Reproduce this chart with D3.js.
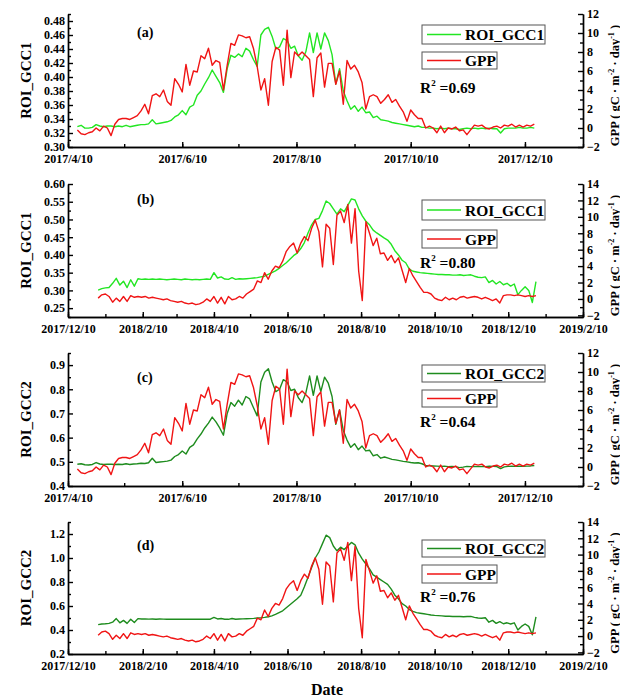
<!DOCTYPE html>
<html>
<head>
<meta charset="utf-8">
<script src="https://cdnjs.cloudflare.com/ajax/libs/d3/7.8.5/d3.min.js"></script>
<style>
body { margin: 0; background: #fff; }
svg text { font-family: "Liberation Serif", "Times New Roman", serif; font-weight: bold; fill: #000; }
</style>
</head>
<body>
<div id="chart"></div>
<script>
// ---- data ----
// 2017 site: one value every 2 days from 2017/4/15
var start2017 = '2017/4/15', step2017 = 2;
var gcc1_2017 = [
  0.329, 0.331, 0.327, 0.327, 0.328, 0.332, 0.330, 0.329, 0.330, 0.330,
  0.329, 0.330, 0.329, 0.331, 0.329, 0.330, 0.331, 0.332, 0.332, 0.333,
  0.339, 0.333, 0.334, 0.335, 0.336, 0.338, 0.343, 0.346, 0.352, 0.346,
  0.357, 0.360, 0.374, 0.380, 0.390, 0.399, 0.410, 0.401, 0.392, 0.378,
  0.412, 0.431, 0.428, 0.433, 0.429, 0.441, 0.437, 0.425, 0.415, 0.460,
  0.468, 0.471, 0.458, 0.440, 0.443, 0.455, 0.452, 0.441, 0.444, 0.430,
  0.424, 0.436, 0.463, 0.435, 0.463, 0.440, 0.463, 0.452, 0.432, 0.390,
  0.412, 0.380, 0.366, 0.354, 0.359, 0.351, 0.357, 0.349, 0.350, 0.342,
  0.344, 0.339, 0.338, 0.337, 0.335, 0.334, 0.333, 0.332, 0.331, 0.330,
  0.329, 0.330, 0.328, 0.328, 0.327, 0.327, 0.326, 0.327, 0.326, 0.327,
  0.326, 0.326, 0.325, 0.326, 0.327, 0.326, 0.327, 0.326, 0.327, 0.326,
  0.327, 0.326, 0.326, 0.320, 0.326, 0.327, 0.327, 0.327, 0.328, 0.327,
  0.327, 0.328, 0.327
];
var gcc2_2017 = [
  0.490, 0.492, 0.488, 0.487, 0.489, 0.497, 0.491, 0.489, 0.490, 0.490,
  0.489, 0.490, 0.489, 0.492, 0.489, 0.491, 0.492, 0.494, 0.493, 0.496,
  0.515, 0.497, 0.499, 0.501, 0.503, 0.507, 0.522, 0.530, 0.545, 0.532,
  0.560, 0.570, 0.595, 0.615, 0.640, 0.660, 0.685, 0.665, 0.640, 0.610,
  0.700, 0.745, 0.730, 0.755, 0.735, 0.770, 0.760, 0.725, 0.690, 0.830,
  0.870, 0.885, 0.830, 0.790, 0.800, 0.840, 0.830, 0.795, 0.800, 0.765,
  0.745, 0.785, 0.855, 0.775, 0.855, 0.790, 0.850, 0.825, 0.770, 0.655,
  0.715, 0.630, 0.590, 0.560, 0.575, 0.550, 0.565, 0.545, 0.548, 0.525,
  0.530, 0.515, 0.520, 0.515, 0.510, 0.508, 0.505, 0.502, 0.500, 0.497,
  0.495, 0.496, 0.492, 0.485, 0.484, 0.483, 0.482, 0.481, 0.482, 0.480,
  0.481, 0.480, 0.476, 0.478, 0.481, 0.480, 0.481, 0.480, 0.481, 0.480,
  0.482, 0.481, 0.480, 0.472, 0.479, 0.481, 0.482, 0.481, 0.482, 0.481,
  0.482, 0.483, 0.485
];
var gpp_2017 = [
  -0.2, -0.6, -0.7, -0.5, -0.4, 0.0, -0.3, 0.2, 0.0, -0.8,
  0.4, 0.9, 1.0, 1.0, 0.9, 1.1, 1.3, 1.8, 2.5, 1.5,
  3.4, 3.6, 3.3, 4.0, 2.8, 2.4, 5.2, 4.6, 3.8, 6.7,
  4.5, 6.0, 5.9, 7.6, 7.3, 8.4, 6.6, 7.1, 6.9, 4.0,
  6.6, 8.9, 8.7, 9.8, 9.7, 9.5, 9.6, 8.4, 6.5, 4.0,
  5.2, 2.4, 7.0, 8.5, 8.2, 4.5, 10.3, 5.3, 8.0, 7.6,
  8.0, 7.6, 7.2, 3.3, 7.4, 7.9, 4.3, 6.8, 6.8, 4.6,
  6.0, 2.5, 7.1, 6.2, 6.6, 5.9, 4.8, 2.0, 3.3, 3.5,
  3.3, 2.6, 3.0, 3.5, 2.7, 3.0, 2.3, 1.7, 0.7, 1.9,
  1.4, 1.0, 1.0, 0.0, 0.2, 0.0, -0.5, 0.2, -0.5, 0.0,
  -0.1, 0.1, -0.3, -0.2, -0.7, -0.2, 0.3, 0.2, 0.3, 0.0,
  -0.1, 0.1, 0.2, 0.0, 0.3, 0.2, 0.4, 0.1, 0.3, 0.1,
  0.3, 0.2, 0.4
];
// 2018 site: one value every 3 days from 2018/1/4
var start2018 = '2018/1/4', step2018 = 3;
var gcc1_2018 = [
  0.301, 0.305, 0.307, 0.308, 0.320, 0.334, 0.315, 0.326, 0.308, 0.330,
  0.312, 0.333, 0.331, 0.332, 0.331, 0.332, 0.331, 0.332, 0.331, 0.330,
  0.331, 0.332, 0.331, 0.330, 0.332, 0.331, 0.330, 0.331, 0.330, 0.331,
  0.332, 0.331, 0.350, 0.335, 0.338, 0.332, 0.331, 0.336, 0.331, 0.333,
  0.332, 0.333, 0.334, 0.335, 0.336, 0.338, 0.340, 0.345, 0.350, 0.355,
  0.362, 0.370, 0.378, 0.388, 0.398, 0.405, 0.418, 0.435, 0.462, 0.485,
  0.500, 0.503, 0.525, 0.552, 0.545, 0.530, 0.515, 0.530, 0.522, 0.540,
  0.558, 0.555, 0.530, 0.510, 0.495, 0.485, 0.470, 0.462, 0.455, 0.448,
  0.442, 0.430, 0.412, 0.400, 0.385, 0.378, 0.360, 0.354, 0.352, 0.350,
  0.349, 0.348, 0.347, 0.346, 0.345, 0.345, 0.344, 0.344, 0.343, 0.343,
  0.344, 0.342, 0.343, 0.344, 0.340, 0.337, 0.336, 0.338, 0.322, 0.328,
  0.318, 0.325, 0.316, 0.320, 0.312, 0.318, 0.288, 0.300, 0.310, 0.300,
  0.266, 0.325
];
var gcc2_2018 = [
  0.445, 0.450, 0.452, 0.455, 0.465, 0.495, 0.460, 0.480, 0.455, 0.490,
  0.462, 0.495, 0.492, 0.493, 0.491, 0.492, 0.490, 0.492, 0.491, 0.489,
  0.490, 0.491, 0.490, 0.489, 0.491, 0.490, 0.489, 0.490, 0.491, 0.490,
  0.491, 0.490, 0.505, 0.492, 0.496, 0.490, 0.489, 0.496, 0.490, 0.492,
  0.493, 0.494, 0.495, 0.497, 0.500, 0.502, 0.505, 0.510, 0.518, 0.530,
  0.545, 0.560, 0.585, 0.610, 0.635, 0.660, 0.690, 0.760, 0.840, 0.920,
  1.000, 1.050, 1.120, 1.190, 1.170, 1.100, 1.060, 1.090, 1.070, 1.100,
  1.130, 1.110, 1.040, 0.990, 0.950, 0.910, 0.860, 0.840, 0.820, 0.800,
  0.780, 0.740, 0.690, 0.660, 0.620, 0.600, 0.570, 0.555, 0.545, 0.540,
  0.535, 0.530, 0.525, 0.522, 0.520, 0.518, 0.515, 0.515, 0.513, 0.512,
  0.513, 0.510, 0.512, 0.513, 0.505, 0.500, 0.498, 0.502, 0.465, 0.480,
  0.455, 0.470, 0.452, 0.460, 0.450, 0.460, 0.400, 0.430, 0.450, 0.430,
  0.360, 0.510
];
var gpp_2018 = [
  0.1, 0.5, 0.6, 0.3, -0.4, 0.1, -0.3, 0.3, -0.3, 0.4,
  0.2, 0.3, 0.2, 0.3, 0.1, 0.2, 0.1, 0.0, -0.1, 0.0,
  -0.2, -0.3, -0.4, -0.3, -0.5, -0.6, -0.5, -0.7, -0.6, -0.4,
  0.0, -0.3, 0.3, -0.5, 0.2, -0.6, 0.3, -0.1, 0.0, 0.3,
  0.1, 0.6, 0.9, 1.2, 2.2, 2.0, 3.2, 2.4, 3.4, 4.0,
  3.8, 4.6, 5.8, 6.4, 6.8, 5.6, 6.8, 7.6, 7.1, 8.6,
  9.6, 8.2, 3.9, 9.1, 8.6, 4.2, 10.2, 10.7, 9.3, 11.5,
  6.8, 11.0, 3.4, -0.2, 9.4, 8.0, 6.5, 7.4, 5.5, 5.6,
  4.7, 5.3, 4.4, 5.0, 3.5, 2.0, 3.7, 2.8, 2.1, 1.4,
  0.8, 0.8, 0.6, 0.1, -0.1, -0.2, 0.2, -0.1, 0.1, -0.1,
  0.2, 0.3, 0.1, 0.2, 0.3, 0.2, 0.0, 0.2, 0.0, -0.2,
  0.0, -0.5, 0.4, 0.5, 0.5, 0.4, 0.5, 0.4, 0.3, 0.4,
  0.3, 0.4
];

// tick labels
var xTicks2017 = ['2017/4/10', '2017/6/10', '2017/8/10', '2017/10/10', '2017/12/10'];
var xTicks2018 = ['2017/12/10', '2018/2/10', '2018/4/10', '2018/6/10', '2018/8/10', '2018/10/10', '2018/12/10', '2019/2/10'];
var yTicksA = [0.30, 0.32, 0.34, 0.36, 0.38, 0.40, 0.42, 0.44, 0.46, 0.48];
var yTicksB = [0.25, 0.30, 0.35, 0.40, 0.45, 0.50, 0.55, 0.60];
var yTicksC = [0.4, 0.5, 0.6, 0.7, 0.8, 0.9];
var yTicksD = [0.2, 0.4, 0.6, 0.8, 1.0, 1.2];
var gppTicks2017 = [-2, 0, 2, 4, 6, 8, 10, 12];
var gppTicks2018 = [-2, 0, 2, 4, 6, 8, 10, 12, 14];
var panelTags = ['(a)', '(b)', '(c)', '(d)'];
var gccNames = ['ROI_GCC1', 'ROI_GCC1', 'ROI_GCC2', 'ROI_GCC2'];
var r2Values = ['0.69', '0.80', '0.64', '0.76'];

// ---- layout ----
var width = 620, height = 700;
var left = 68, right = 583;
var parse = d3.utcParse('%Y/%m/%d');
var font = '"Liberation Serif", "Times New Roman", serif';

var svg = d3.select('#chart').append('svg')
    .attr('width', width)
    .attr('height', height);

function series(start, step, values) {
    var t0 = parse(start);
    return values.map((v, i) => ({ date: d3.utcDay.offset(t0, step * i), v: v }));
}

var panels = [
    { top: 14, bottom: 147, gcc: gcc1_2017, gpp: gpp_2017, start: start2017, step: step2017,
      xDom: ['2017/4/10', '2018/1/10'], xTicks: xTicks2017, yDom: [0.30, 0.49], yTicks: yTicksA, yFmt: '.2f',
      gDom: [-2, 12], gTicks: gppTicks2017, color: '#22e622',
      tagY: 37, box1: [25, 44], box2: [52, 69], r2Y: 93 },
    { top: 184, bottom: 317, gcc: gcc1_2018, gpp: gpp_2018, start: start2018, step: step2018,
      xDom: ['2017/12/10', '2019/2/10'], xTicks: xTicks2018, yDom: [0.225, 0.60], yTicks: yTicksB, yFmt: '.2f',
      gDom: [-2.2, 14], gTicks: gppTicks2018, color: '#22e622',
      tagY: 204, box1: [200, 220], box2: [230, 248], r2Y: 268 },
    { top: 353, bottom: 486, gcc: gcc2_2017, gpp: gpp_2017, start: start2017, step: step2017,
      xDom: ['2017/4/10', '2018/1/10'], xTicks: xTicks2017, yDom: [0.4, 0.95], yTicks: yTicksC, yFmt: '.1f',
      gDom: [-2, 12], gTicks: gppTicks2017, color: '#1e8c1e',
      tagY: 382, box1: [365, 382], box2: [390, 407], r2Y: 427 },
    { top: 522, bottom: 654, gcc: gcc2_2018, gpp: gpp_2018, start: start2018, step: step2018,
      xDom: ['2017/12/10', '2019/2/10'], xTicks: xTicks2018, yDom: [0.2, 1.3], yTicks: yTicksD, yFmt: '.1f',
      gDom: [-2.2, 14], gTicks: gppTicks2018, color: '#1e8c1e',
      tagY: 550, box1: [540, 557], box2: [565, 583], r2Y: 602 }
];

function styleAxis(g) {
    g.selectAll('path, line').attr('stroke', '#000').attr('stroke-width', 1.4);
    g.selectAll('text')
        .attr('font-family', font)
        .attr('font-weight', 'bold')
        .attr('font-size', 12)
        .attr('fill', '#000');
}

panels.forEach((p, k) => {
    var x = d3.scaleUtc().domain(p.xDom.map(parse)).range([left, right]);
    var yL = d3.scaleLinear().domain(p.yDom).range([p.bottom, p.top]);
    var yR = d3.scaleLinear().domain(p.gDom).range([p.bottom, p.top]);

    // minor ticks
    var half = (p.yTicks[1] - p.yTicks[0]) / 2;
    var yMinor = [p.yTicks[0] - half].concat(p.yTicks.map(v => v + half))
        .filter(v => v >= p.yDom[0] - 1e-9 && v <= p.yDom[1] + 1e-9);
    var gMinor = p.gTicks.map(v => v + 1).filter(v => v <= p.gDom[1]);
    var d0 = parse(p.xDom[0]), d1 = parse(p.xDom[1]);
    var xMinor = d3.utcMonth.range(d3.utcMonth.floor(d0), d1)
        .map(m => new Date(Date.UTC(m.getUTCFullYear(), m.getUTCMonth(), 10)))
        .filter(d => d >= d0 && d <= d1);

    var g = svg.append('g');

    // data lines
    var gccData = series(p.start, p.step, p.gcc);
    var gppData = series(p.start, p.step, p.gpp);
    g.append('path')
        .datum(gccData)
        .attr('fill', 'none')
        .attr('stroke', p.color)
        .attr('stroke-width', 1.4)
        .attr('stroke-linejoin', 'round')
        .attr('d', d3.line().x(d => x(d.date)).y(d => yL(d.v)));
    g.append('path')
        .datum(gppData)
        .attr('fill', 'none')
        .attr('stroke', '#f01414')
        .attr('stroke-width', 1.4)
        .attr('stroke-linejoin', 'round')
        .attr('d', d3.line().x(d => x(d.date)).y(d => yR(d.v)));

    // axes
    g.append('g').attr('transform', 'translate(' + left + ',0)')
        .call(d3.axisLeft(yL).tickValues(yMinor).tickSize(-3).tickSizeOuter(0).tickFormat(''))
        .call(styleAxis);
    g.append('g').attr('transform', 'translate(' + left + ',0)')
        .call(d3.axisLeft(yL).tickValues(p.yTicks).tickSize(-5).tickSizeOuter(0).tickPadding(3).tickFormat(d3.format(p.yFmt)))
        .call(styleAxis);

    g.append('g').attr('transform', 'translate(' + right + ',0)')
        .call(d3.axisRight(yR).tickValues(gMinor).tickSize(-3).tickSizeOuter(0).tickFormat(''))
        .call(styleAxis);
    g.append('g').attr('transform', 'translate(' + right + ',0)')
        .call(d3.axisRight(yR).tickValues(p.gTicks).tickSize(-5).tickSizeOuter(0).tickPadding(4).tickFormat(d3.format('d')))
        .call(styleAxis);

    g.append('g').attr('transform', 'translate(0,' + p.bottom + ')')
        .call(d3.axisBottom(x).tickValues(xMinor).tickSize(-3).tickSizeOuter(0).tickFormat(''))
        .call(styleAxis);
    g.append('g').attr('transform', 'translate(0,' + p.bottom + ')')
        .call(d3.axisBottom(x).tickValues(p.xTicks.map(parse)).tickSize(-5).tickSizeOuter(0).tickPadding(7.5)
            .tickFormat((d, i) => p.xTicks[i]))
        .call(styleAxis);

    // axis titles
    var mid = (p.top + p.bottom) / 2;
    g.append('text')
        .attr('transform', 'translate(31,' + mid + ') rotate(-90)')
        .attr('text-anchor', 'middle')
        .attr('font-size', 15)
        .text(gccNames[k]);

    var rt = g.append('text')
        .attr('transform', 'translate(619,' + (mid + 5) + ') rotate(-90)')
        .attr('text-anchor', 'middle')
        .attr('font-size', 12.5);
    rt.append('tspan').text('GPP ( gC · m');
    rt.append('tspan').attr('dy', -5).attr('font-size', 8).text('-2');
    rt.append('tspan').attr('dy', 5).text(' · day');
    rt.append('tspan').attr('dy', -5).attr('font-size', 8).text('-1');
    rt.append('tspan').attr('dy', 5).text(' )');

    // panel tag
    g.append('text')
        .attr('x', 137)
        .attr('y', p.tagY)
        .attr('font-size', 14)
        .text(panelTags[k]);

    // legend
    var boxes = [
        { y: p.box1, w: 123, label: gccNames[k], color: p.color },
        { y: p.box2, w: 75, label: 'GPP', color: '#f01414' }
    ];
    boxes.forEach(b => {
        g.append('rect')
            .attr('x', 422).attr('y', b.y[0])
            .attr('width', b.w).attr('height', b.y[1] - b.y[0])
            .attr('fill', '#fff')
            .attr('stroke', '#555')
            .attr('stroke-width', 1);
        var cy = (b.y[0] + b.y[1]) / 2;
        g.append('line')
            .attr('x1', 427).attr('x2', 461)
            .attr('y1', cy).attr('y2', cy)
            .attr('stroke', b.color)
            .attr('stroke-width', 1.6);
        g.append('text')
            .attr('x', 465).attr('y', cy + 5.5)
            .attr('font-size', 15.5)
            .text(b.label);
    });

    var r2 = g.append('text')
        .attr('x', 420)
        .attr('y', p.r2Y)
        .attr('font-size', 15.5);
    r2.append('tspan').text('R');
    r2.append('tspan').attr('dy', -7).attr('font-size', 9).text('2');
    r2.append('tspan').attr('dy', 7).text(' =' + r2Values[k]);
});

svg.append('text')
    .attr('x', 327)
    .attr('y', 695)
    .attr('text-anchor', 'middle')
    .attr('font-size', 16)
    .text('Date');
</script>
</body>
</html>
